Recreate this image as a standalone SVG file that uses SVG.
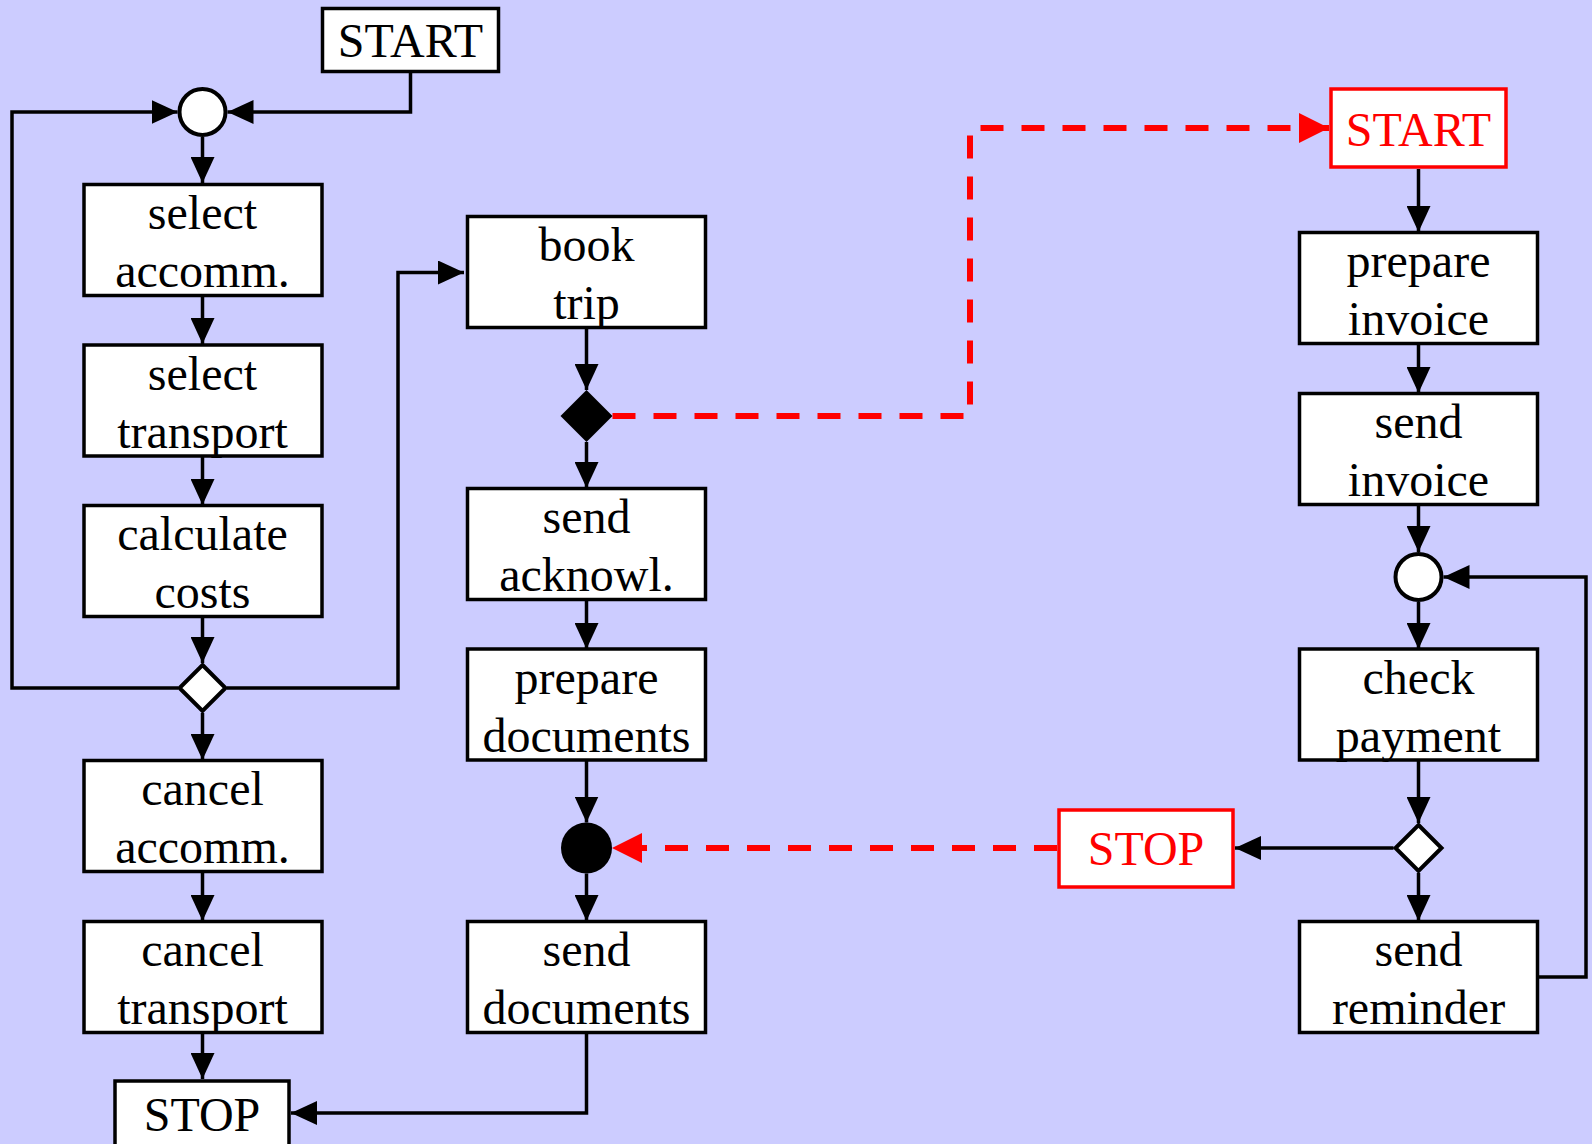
<svg xmlns="http://www.w3.org/2000/svg" width="1592" height="1144" viewBox="0 0 1592 1144">
<defs>
<style>
.box{fill:#ffffff;stroke:#000000;stroke-width:3.5}
.rbox{fill:#ffffff;stroke:#ff0000;stroke-width:3.5}
.lbl{font-family:"Liberation Serif","Times New Roman",serif;font-size:48px;fill:#000000;text-anchor:middle}
.rlbl{font-family:"Liberation Serif","Times New Roman",serif;font-size:48px;fill:#ff0000;text-anchor:middle}
.sym{fill:#ffffff;stroke:#000000;stroke-width:4}
.edge{fill:none;stroke:#000000;stroke-width:3.5;marker-end:url(#ah)}
.redge{fill:none;stroke:#ff0000;stroke-width:6;stroke-dasharray:23 18;marker-end:url(#rah)}
</style>
<marker id="ah" markerUnits="userSpaceOnUse" markerWidth="26" markerHeight="24" refX="26" refY="12" orient="auto">
<path d="M0,0 L26,12 L0,24 z" fill="#000000"/>
</marker>
<marker id="rah" markerUnits="userSpaceOnUse" markerWidth="30" markerHeight="30" refX="30" refY="15" orient="auto">
<path d="M0,0 L30,15 L0,30 z" fill="#ff0000"/>
</marker>
</defs>
<rect x="0" y="0" width="1592" height="1144" fill="#ccccff"/>

<g id="connectors">
<path class="edge" d="M410.5,73 V112 H227.5"/>
<path class="edge" d="M178,688 H12 V112 H177.5"/>
<path class="edge" d="M202.5,137 V183"/>
<path class="edge" d="M202.5,297 V344"/>
<path class="edge" d="M202.5,457 V505"/>
<path class="edge" d="M202.5,617 V663"/>
<path class="edge" d="M202.5,713 V760"/>
<path class="edge" d="M202.5,872 V921"/>
<path class="edge" d="M202.5,1033 V1079"/>
<path class="edge" d="M227,688 H398 V272.5 H464"/>
<path class="edge" d="M586.5,328 V390"/>
<path class="edge" d="M586.5,442 V488"/>
<path class="edge" d="M586.5,600 V649"/>
<path class="edge" d="M586.5,760 V822.5"/>
<path class="edge" d="M586.5,873.5 V921"/>
<path class="edge" d="M586.5,1033 V1113 H291"/>
<path class="edge" d="M1418.5,169 V232"/>
<path class="edge" d="M1418.5,344 V393"/>
<path class="edge" d="M1418.5,505 V552"/>
<path class="edge" d="M1418.5,602 V649"/>
<path class="edge" d="M1418.5,760 V823"/>
<path class="edge" d="M1418.5,873 V921"/>
<path class="edge" d="M1393.5,848 H1235"/>
<path class="edge" d="M1539,977 H1586 V577 H1443.5"/>
<path class="redge" d="M612.5,416 H970 V128 H1329"/>
<path class="redge" d="M1057,848 H612"/>
</g>

<g id="start1"><rect class="box" x="322.5" y="8.5" width="176" height="63"/><text class="lbl" x="410.5" y="57">START</text></g>
<g id="merge1"><circle class="sym" cx="202.5" cy="112" r="23"/></g>
<g id="select_accomm"><rect class="box" x="84" y="184.5" width="238" height="111"/><text class="lbl" x="202.5" y="229">select</text><text class="lbl" x="202.5" y="287">accomm.</text></g>
<g id="select_transport"><rect class="box" x="84" y="345" width="238" height="111"/><text class="lbl" x="202.5" y="389.5">select</text><text class="lbl" x="202.5" y="447.5">transport</text></g>
<g id="calculate_costs"><rect class="box" x="84" y="505.5" width="238" height="111"/><text class="lbl" x="202.5" y="550">calculate</text><text class="lbl" x="202.5" y="608">costs</text></g>
<g id="decision1"><polygon class="sym" points="202.5,665 225.5,688 202.5,711 179.5,688"/></g>
<g id="cancel_accomm"><rect class="box" x="84" y="760.5" width="238" height="111"/><text class="lbl" x="202.5" y="805">cancel</text><text class="lbl" x="202.5" y="863">accomm.</text></g>
<g id="cancel_transport"><rect class="box" x="84" y="921.5" width="238" height="111"/><text class="lbl" x="202.5" y="966">cancel</text><text class="lbl" x="202.5" y="1024">transport</text></g>
<g id="stop1"><rect class="box" x="115" y="1081" width="174" height="80"/><text class="lbl" x="202" y="1131">STOP</text></g>

<g id="book_trip"><rect class="box" x="467.5" y="216.5" width="238" height="111"/><text class="lbl" x="586.5" y="261">book</text><text class="lbl" x="586.5" y="319">trip</text></g>
<g id="fork"><polygon points="586.5,390 612.5,416 586.5,442 560.5,416" fill="#000000"/></g>
<g id="send_acknowl"><rect class="box" x="467.5" y="488.5" width="238" height="111"/><text class="lbl" x="586.5" y="533">send</text><text class="lbl" x="586.5" y="591">acknowl.</text></g>
<g id="prepare_documents"><rect class="box" x="467.5" y="649" width="238" height="111"/><text class="lbl" x="586.5" y="693.5">prepare</text><text class="lbl" x="586.5" y="751.5">documents</text></g>
<g id="sync"><circle cx="586.5" cy="848" r="25.5" fill="#000000"/></g>
<g id="send_documents"><rect class="box" x="467.5" y="921.5" width="238" height="111"/><text class="lbl" x="586.5" y="966">send</text><text class="lbl" x="586.5" y="1024">documents</text></g>

<g id="start2"><rect class="rbox" x="1331" y="89" width="175" height="78"/><text class="rlbl" x="1418.5" y="146">START</text></g>
<g id="prepare_invoice"><rect class="box" x="1299.5" y="232.5" width="238" height="111"/><text class="lbl" x="1418.5" y="277">prepare</text><text class="lbl" x="1418.5" y="335">invoice</text></g>
<g id="send_invoice"><rect class="box" x="1299.5" y="393.5" width="238" height="111"/><text class="lbl" x="1418.5" y="438">send</text><text class="lbl" x="1418.5" y="496">invoice</text></g>
<g id="merge2"><circle class="sym" cx="1418.5" cy="577" r="23"/></g>
<g id="check_payment"><rect class="box" x="1299.5" y="649" width="238" height="111"/><text class="lbl" x="1418.5" y="693.5">check</text><text class="lbl" x="1418.5" y="751.5">payment</text></g>
<g id="decision2"><polygon class="sym" points="1418.5,825 1441.5,848 1418.5,871 1395.5,848"/></g>
<g id="stop2"><rect class="rbox" x="1059" y="810" width="174" height="77"/><text class="rlbl" x="1146" y="865">STOP</text></g>
<g id="send_reminder"><rect class="box" x="1299.5" y="921.5" width="238" height="111"/><text class="lbl" x="1418.5" y="966">send</text><text class="lbl" x="1418.5" y="1024">reminder</text></g>
</svg>
